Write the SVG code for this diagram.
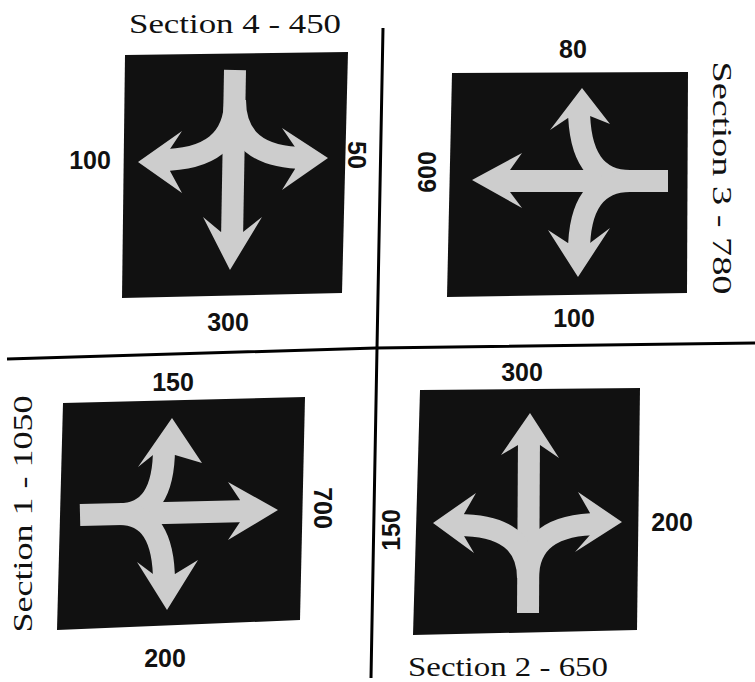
<svg xmlns="http://www.w3.org/2000/svg" width="755" height="682" viewBox="0 0 755 682">
<style>
.bg{fill:#ffffff}
.sq{fill:#111111}
.ar{fill:#cdcdcd}
.st{fill:none;stroke:#cdcdcd;stroke-width:22;stroke-linecap:butt;stroke-linejoin:round}
.ln{fill:none;stroke:#000;stroke-width:3}
.num{font-family:"Liberation Sans",Arial,sans-serif;font-weight:bold;font-size:25px;fill:#111;text-anchor:middle}
.ttl{font-family:"Liberation Serif","Times New Roman",serif;font-size:28px;fill:#111;text-anchor:middle}
</style>
<rect class="bg" x="0" y="0" width="755" height="682"/>
<g id="connectors">
<polyline class="ln" points="383,28 377,348 371,678"/>
<polyline class="ln" points="7,359 376,348 755,343"/>
</g>
<g id="section4">
<polygon class="sq" points="125,55 348,52 342,293 122,298"/>
<path class="st" d="M235,70 L232,240"/>
<path class="st" d="M235,100 Q235,160 160,160"/>
<path class="st" d="M235,100 Q235,158 305,158"/>
<polygon class="ar" points="170,149 182,131 138,162 182,193 170,171"/>
<polygon class="ar" points="295,147 282,128 328,158 282,190 295,169"/>
<polygon class="ar" points="221,232 203,217 230,270 262,217 243,232"/>
<text class="ttl" x="235" y="33" textLength="212" lengthAdjust="spacingAndGlyphs">Section 4 - 450</text>
<text class="num" x="90" y="169">100</text>
<text class="num" transform="translate(357,155) rotate(90)" x="0" y="9">50</text>
<text class="num" x="228" y="331">300</text>
</g>
<g id="section3">
<polygon class="sq" points="452,73 688,72 687,293 447,297"/>
<path class="st" d="M668,181 L500,181"/>
<path class="st" d="M630,181 Q579,181 579,108"/>
<path class="st" d="M630,181 Q579,181 579,252"/>
<polygon class="ar" points="510,170 522,153 472,180 522,208 510,192"/>
<polygon class="ar" points="568,118 550,130 582,88 610,124 590,116"/>
<polygon class="ar" points="568,243 548,230 578,277 610,228 590,243"/>
<text class="num" x="573" y="58">80</text>
<text class="num" transform="translate(427,172) rotate(-90)" x="0" y="9">600</text>
<text class="num" x="574" y="327">100</text>
<text class="ttl" transform="translate(722,178) rotate(90)" x="0" y="9" textLength="233" lengthAdjust="spacingAndGlyphs">Section 3 - 780</text>
</g>
<g id="section1">
<polygon class="sq" points="63,403 305,397 300,620 57,630"/>
<path class="st" d="M80,515 L250,511"/>
<path class="st" d="M120,514 Q164,514 164,448"/>
<path class="st" d="M120,514 Q164,514 164,582"/>
<polygon class="ar" points="240,500 228,482 278,510 228,540 240,522"/>
<polygon class="ar" points="153,455 138,467 172,418 202,463 175,455"/>
<polygon class="ar" points="153,574 137,562 167,610 198,560 175,574"/>
<text class="num" x="173" y="391">150</text>
<text class="num" transform="translate(323,508) rotate(90)" x="0" y="9">700</text>
<text class="num" x="165" y="667">200</text>
<text class="ttl" transform="translate(23,514) rotate(-90)" x="0" y="9" textLength="237" lengthAdjust="spacingAndGlyphs">Section 1 - 1050</text>
</g>
<g id="section2">
<polygon class="sq" points="420,390 640,388 637,630 413,635"/>
<path class="st" d="M528,613 L529,435"/>
<path class="st" d="M528,578 Q528,525 458,525"/>
<path class="st" d="M528,578 Q528,524 600,524"/>
<polygon class="ar" points="518,445 501,455 530,413 559,458 540,445"/>
<polygon class="ar" points="464,514 476,493 433,523 474,553 464,536"/>
<polygon class="ar" points="590,513 578,492 622,522 575,552 590,535"/>
<text class="num" x="522" y="381">300</text>
<text class="num" transform="translate(391,530) rotate(-90)" x="0" y="9">150</text>
<text class="num" x="672" y="531">200</text>
<text class="ttl" x="508" y="676" textLength="200" lengthAdjust="spacingAndGlyphs">Section 2 - 650</text>
</g>
</svg>
